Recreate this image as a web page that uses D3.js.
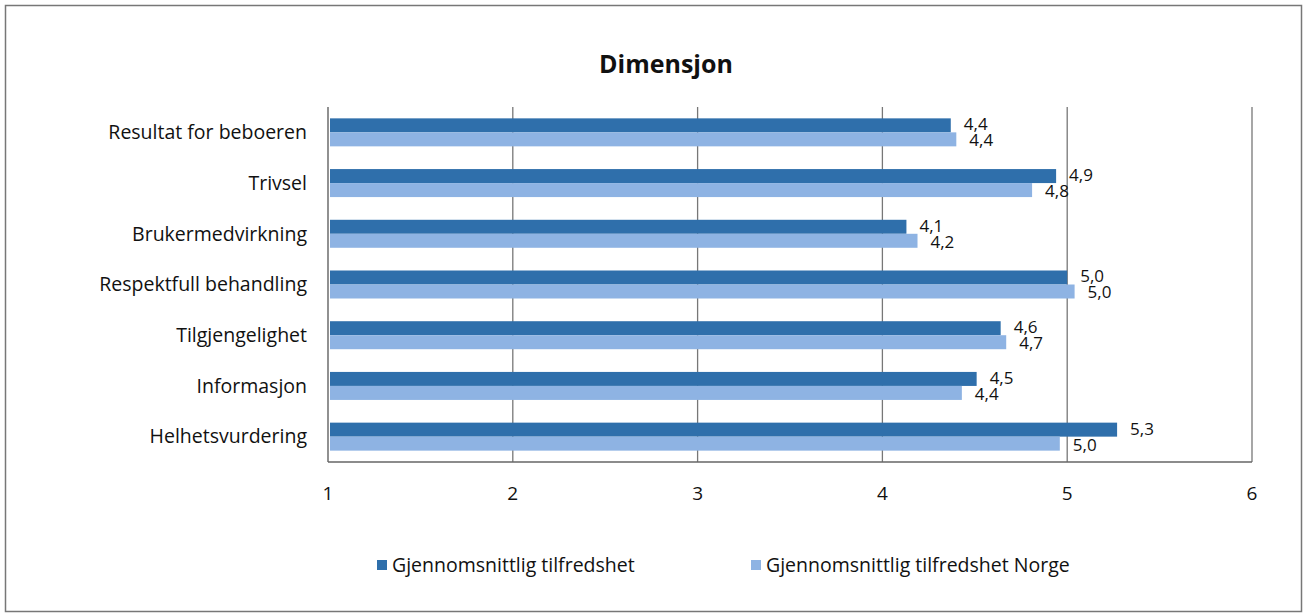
<!DOCTYPE html>
<html>
<head>
<meta charset="utf-8">
<script src="https://cdn.jsdelivr.net/npm/d3@7"></script>
<style>
  body { margin: 0; background: #fff; }
  text { font-family: "Open Sans", Lato, sans-serif; fill: #111; }
</style>
</head>
<body>
<div id="chart-area"></div>
<script>
// data
var categories = ["Resultat for beboeren", "Trivsel", "Brukermedvirkning",
  "Respektfull behandling", "Tilgjengelighet", "Informasjon", "Helhetsvurdering"];
var lokal = [4.37, 4.94, 4.13, 5.00, 4.64, 4.51, 5.27];
var norge = [4.40, 4.81, 4.19, 5.04, 4.67, 4.43, 4.96];
var seriesNames = ["Gjennomsnittlig tilfredshet", "Gjennomsnittlig tilfredshet Norge"];
var xTicks = [1, 2, 3, 4, 5, 6];

var colors = ["#2f6fab", "#8eb3e3"];

var W = 1304, H = 613;
var margin = {top: 107, right: 52, bottom: 151, left: 328},
    width = W - margin.left - margin.right,
    height = H - margin.top - margin.bottom;

var svg = d3.select("#chart-area")
  .append("svg")
    .attr("width", W)
    .attr("height", H);

// outer chart frame
svg.append("rect")
  .attr("x", 5.5).attr("y", 5.5)
  .attr("width", W - 8).attr("height", H - 7)
  .attr("fill", "none")
  .attr("stroke", "#777")
  .attr("stroke-width", 1.5);

svg.append("text")
  .attr("x", 666)
  .attr("y", 73)
  .attr("text-anchor", "middle")
  .style("font-size", "25px")
  .style("font-weight", "bold")
  .text("Dimensjon");

var g = svg.append("g")
  .attr("transform", "translate(" + margin.left + "," + margin.top + ")");

var x = d3.scaleLinear().domain([1, 6]).range([0, width]);
var y = d3.scaleBand().domain(categories).range([0, height]);
var inner = d3.scaleBand().domain([0, 1]).range([y.bandwidth() / 2 - 14, y.bandwidth() / 2 + 14]);

// gridlines
g.selectAll("line.grid")
  .data(xTicks)
  .enter().append("line")
  .attr("class", "grid")
  .attr("x1", function(d) { return x(d); })
  .attr("x2", function(d) { return x(d); })
  .attr("y1", 0)
  .attr("y2", height)
  .attr("stroke", function(d) { return d == 1 ? "#555" : "#777"; })
  .attr("stroke-width", 1.3);

// bottom axis line
g.append("line")
  .attr("x1", 0).attr("x2", width)
  .attr("y1", height).attr("y2", height)
  .attr("stroke", "#666")
  .attr("stroke-width", 1.5);

// tick labels
g.selectAll("text.tick")
  .data(xTicks)
  .enter().append("text")
  .attr("class", "tick")
  .attr("x", function(d) { return x(d); })
  .attr("y", height + 38)
  .attr("text-anchor", "middle")
  .style("font-size", "19px")
  .text(function(d) { return d; });

// category labels
g.selectAll("text.cat")
  .data(categories)
  .enter().append("text")
  .attr("class", "cat")
  .attr("x", -21)
  .attr("y", function(d) { return y(d) + y.bandwidth() / 2; })
  .attr("dy", "0.35em")
  .attr("text-anchor", "end")
  .style("font-size", "19.5px")
  .text(function(d) { return d; });

var fmt = function(v) { return d3.format(".1f")(v).replace(".", ","); };

[lokal, norge].forEach(function(vals, s) {
  g.selectAll("rect.s" + s)
    .data(vals)
    .enter().append("rect")
    .attr("class", "s" + s)
    .attr("x", x(1) + 2)
    .attr("y", function(d, i) { return y(categories[i]) + inner(s); })
    .attr("width", function(d) { return x(d) - x(1) - 2; })
    .attr("height", inner.bandwidth())
    .attr("fill", colors[s]);

  g.selectAll("text.v" + s)
    .data(vals)
    .enter().append("text")
    .attr("class", "v" + s)
    .attr("x", function(d) { return x(d) + 13; })
    .attr("y", function(d, i) { return y(categories[i]) + inner(s) + inner.bandwidth() / 2 + (s == 0 ? -1 : 1); })
    .attr("dy", "0.35em")
    .style("font-size", "17px")
    .text(function(d) { return fmt(d); });
});

// legend
var legX = [377, 751];
var leg = svg.selectAll("g.leg")
  .data(seriesNames)
  .enter().append("g")
  .attr("class", "leg")
  .attr("transform", function(d, i) { return "translate(" + legX[i] + ",565)"; });
leg.append("rect")
  .attr("x", 0).attr("y", -5)
  .attr("width", 10).attr("height", 10)
  .attr("fill", function(d, i) { return colors[i]; });
leg.append("text")
  .attr("x", 15)
  .attr("y", 0)
  .attr("dy", "0.35em")
  .style("font-size", "19.5px")
  .text(function(d) { return d; });
</script>
</body>
</html>
